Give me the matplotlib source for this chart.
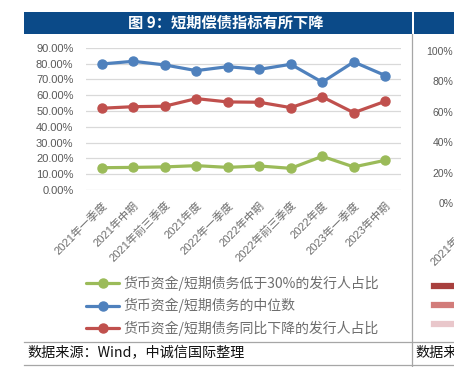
import matplotlib
matplotlib.use("Agg")
import matplotlib.pyplot as plt
from matplotlib.lines import Line2D
from matplotlib.patches import Rectangle

plt.rcParams['font.family'] = ['Liberation Sans', 'Noto Sans CJK SC', 'DejaVu Sans']

# data (percent)
periods = ["2021年一季度", "2021年中期", "2021年前三季度", "2021年度",
           "2022年一季度", "2022年中期", "2022年前三季度", "2022年度",
           "2023年一季度", "2023年中期"]
low_cash_share = [14.1, 14.3, 14.6, 15.4, 14.3, 15.2, 13.7, 21.3, 14.6, 18.8]
median_ratio = [79.7, 81.4, 79.1, 75.5, 78.0, 76.3, 79.5, 68.2, 81.0, 72.4]
yoy_down_share = [51.7, 52.7, 53.0, 57.8, 55.7, 55.5, 52.1, 58.9, 48.9, 56.1]
series_labels = ["货币资金/短期债务低于30%的发行人占比",
                 "货币资金/短期债务的中位数",
                 "货币资金/短期债务同比下降的发行人占比"]
y_ticks = [0, 10, 20, 30, 40, 50, 60, 70, 80, 90]
right_ticks = [0, 20, 40, 60, 80, 100]
right_colors = ["#a8403e", "#d27c7a", "#e9c7cb"]

title = "图 9：短期偿债指标有所下降"
source = "数据来源：Wind，中诚信国际整理"

W, H = 454, 367
fig = plt.figure(figsize=(W / 100, H / 100), dpi=100)
fx = lambda px: px / W
fy = lambda py: 1 - py / H

GRAY = "#595959"
LIGHT = "#6e6e6e"
colors = {"green": "#9bbb59", "blue": "#4f81bd", "red": "#c0504d"}

# header bars
fig.add_artist(Rectangle((fx(24), fy(34.3)), fx(412) - fx(24), 22.6 / H,
                         transform=fig.transFigure, color="#0b4a88", lw=0))
fig.add_artist(Rectangle((fx(413.5), fy(34.3)), fx(454) - fx(413.5), 22.6 / H,
                         transform=fig.transFigure, color="#0b4a88", lw=0))
fig.text(fx(226), fy(23), title, color="white", fontsize=11, fontweight="bold",
         ha="center", va="center", family=["Noto Sans CJK SC"])

# main chart
ax = fig.add_axes([fx(86), fy(190), fx(401) - fx(86), (190 - 47.7) / H])
x = list(range(len(periods)))
series = [(low_cash_share, colors["green"]),
          (median_ratio, colors["blue"]),
          (yoy_down_share, colors["red"])]
handles = []
for vals, c in series:
    ln, = ax.plot(x, vals, color=c, lw=2.3, marker="o", markersize=6.5,
                  solid_capstyle="round")
    handles.append(ln)

ax.set_xlim(-0.5, len(periods) - 0.5)
ax.set_ylim(0, 90)
ax.set_yticks(y_ticks)
ax.set_yticklabels([f"{v:.2f}%" for v in y_ticks])
ax.set_xticks(x)
ax.set_xticklabels(periods, rotation=45, ha="right", rotation_mode="anchor")
ax.tick_params(axis="y", length=0, pad=9, labelsize=8, labelcolor=GRAY)
ax.tick_params(axis="x", length=0, pad=7, labelsize=8, labelcolor=LIGHT)
ax.grid(axis="y", color="#d9d9d9", lw=0.9)
ax.set_axisbelow(True)
for s in ax.spines.values():
    s.set_visible(False)

fig.legend(handles, series_labels, loc="upper left",
           bbox_to_anchor=(fx(86), fy(276)), frameon=False,
           handlelength=2.4, handletextpad=0.3, labelspacing=0.5,
           borderpad=0, borderaxespad=0, labelcolor=LIGHT,
           prop={"family": ["Noto Sans CJK SC"], "size": 10})

# clipped neighbouring chart on the right
ax2 = fig.add_axes([fx(456), fy(203), 0.3, (203 - 51) / H])
ax2.set_ylim(0, 100)
ax2.set_yticks(right_ticks)
ax2.set_yticklabels([f"{v}%" for v in right_ticks])
ax2.set_xlim(-1.6, 8.4)
ax2.set_xticks([0])
ax2.set_xticklabels(periods[:1], rotation=45, ha="right", rotation_mode="anchor")
ax2.tick_params(axis="y", length=0, pad=2, labelsize=7.5, labelcolor=GRAY)
ax2.tick_params(axis="x", length=0, pad=6, labelsize=8, labelcolor=LIGHT)
for s in ax2.spines.values():
    s.set_visible(False)
rh = [Line2D([], [], color=c, lw=4.5) for c in right_colors]
fig.legend(rh, ["", "", ""], loc="upper left", bbox_to_anchor=(fx(434), fy(280)),
           frameon=False, fontsize=10, handlelength=2.5, labelspacing=0.35,
           borderpad=0, borderaxespad=0)

# separators and source line
fig.add_artist(Line2D([fx(412.3), fx(412.3)], [fy(34), 0], transform=fig.transFigure,
                      color="#a6a6a6", lw=0.9))
for yy in (341.5, 365):
    fig.add_artist(Line2D([fx(24), 1], [fy(yy), fy(yy)], transform=fig.transFigure,
                          color="#a6a6a6", lw=0.9))
fig.text(fx(27), fy(353), source, fontsize=10.2, color="#111111", va="center",
         family=["Noto Sans CJK SC"])
fig.text(fx(415), fy(353), "数据来源", fontsize=10.2, color="#111111", va="center",
         family=["Noto Sans CJK SC"])

fig.savefig("out.png", dpi=100)
